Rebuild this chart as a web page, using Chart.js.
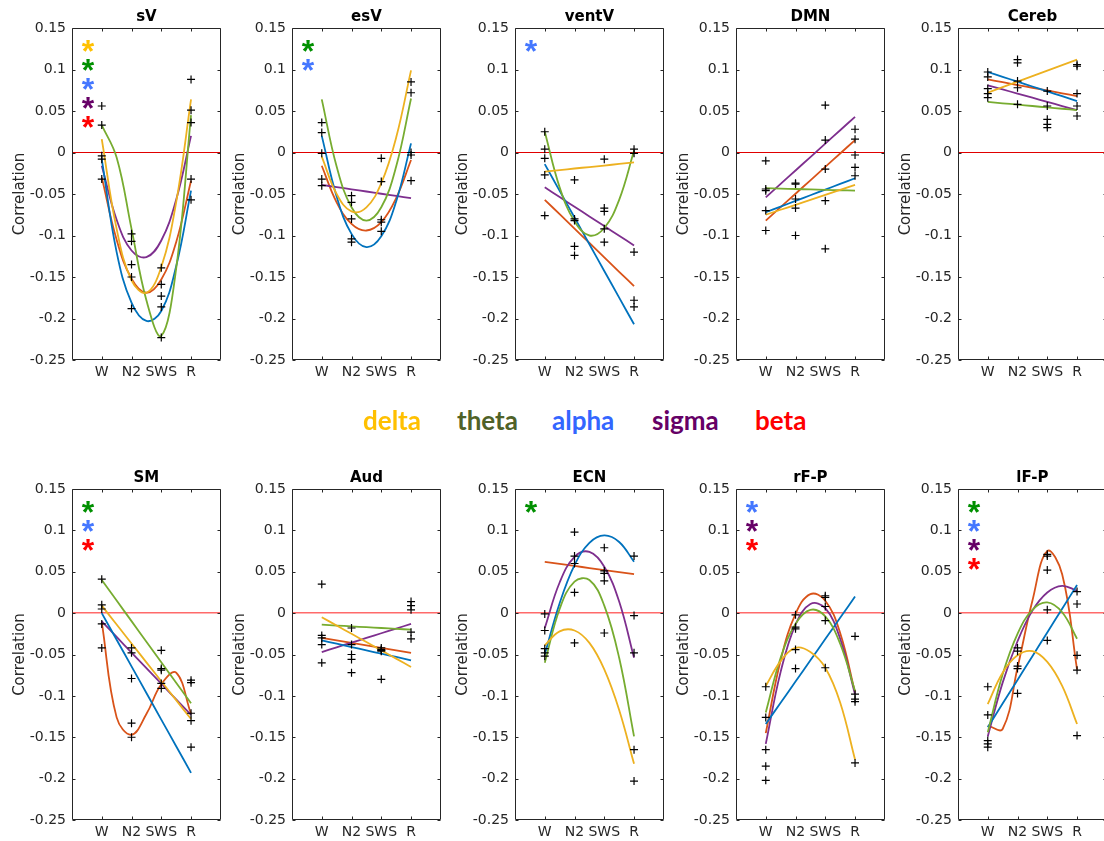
<!DOCTYPE html>
<html>
<head>
<meta charset="utf-8">
<script src="https://cdn.jsdelivr.net/npm/chart.js@4.4.1/dist/chart.umd.min.js"></script>
<style>
  html, body { margin: 0; padding: 0; background: #fff; width: 1104px; height: 841px; overflow: hidden; }
  #fig { position: relative; width: 1104px; height: 841px; overflow: hidden; }
  #fig canvas { position: absolute; }
  .band { position: absolute; top: 404px; font: bold 26px Lato, sans-serif; line-height: 32px; white-space: nowrap; }
</style>
</head>
<body>
<div id="fig"></div>
<script>
// Eixos comuns
const stages = ['W', 'N2', 'SWS', 'R'];
const stageX = [1, 2, 3, 4];
const fitX = [1, 1.5, 2, 2.5, 3, 3.5, 4];
const bands = ['delta', 'theta', 'alpha', 'sigma', 'beta'];
const yTicks = [-0.25, -0.2, -0.15, -0.1, -0.05, 0, 0.05, 0.1, 0.15];
const yTickLabels = ['-0.25', '-0.2', '-0.15', '-0.1', '-0.05', '0', '0.05', '0.1', '0.15'];

// Cores
const fitColors = ['#EDB120', '#77AC30', '#0072BD', '#7E2F8E', '#D95319'];
const legendColors = ['#FFC000', '#4F6228', '#3366FF', '#660066', '#FF0000'];
const starColors = ['#FFC000', '#009000', '#4477FF', '#660066', '#FF0000'];

// sV
const sV_pts = [
    [0.056, 0.033, -0.004, -0.008, -0.032],
    [-0.098, -0.107, -0.135, -0.150, -0.188],
    [-0.139, -0.159, -0.173, -0.186, -0.223],
    [0.088, 0.051, 0.036, -0.032, -0.057]
];
const sV_fit = [
    [0.016, -0.092, -0.154, -0.169, -0.138, -0.060, 0.064],
    [0.033, -0.006, -0.092, -0.178, -0.221, -0.140, 0.045],
    [-0.008, -0.120, -0.181, -0.203, -0.191, -0.137, -0.046],
    [-0.016, -0.081, -0.118, -0.126, -0.106, -0.057, 0.020],
    [-0.030, -0.105, -0.152, -0.169, -0.153, -0.108, -0.034]
];
const sV_stars = ['delta', 'theta', 'alpha', 'sigma', 'beta'];

// esV
const esV_pts = [
    [0.036, 0.024, -0.001, -0.032, -0.040],
    [-0.052, -0.060, -0.080, -0.104, -0.108],
    [-0.007, -0.035, -0.081, -0.084, -0.095],
    [0.085, 0.072, 0.000, -0.003, -0.034]
];
const esV_fit = [
    [-0.005, -0.050, -0.071, -0.066, -0.037, 0.018, 0.099],
    [0.064, -0.017, -0.066, -0.082, -0.066, -0.017, 0.065],
    [0.020, -0.053, -0.098, -0.114, -0.101, -0.059, 0.011],
    [-0.039, -0.0417, -0.0443, -0.047, -0.0497, -0.0523, -0.055],
    [-0.016, -0.060, -0.086, -0.094, -0.084, -0.055, -0.009]
];
const esV_stars = ['theta', 'alpha'];

// ventV
const ventV_pts = [
    [0.025, 0.004, -0.007, -0.027, -0.076],
    [-0.033, -0.080, -0.082, -0.113, -0.124],
    [-0.008, -0.067, -0.071, -0.092, -0.108],
    [0.004, -0.001, -0.120, -0.178, -0.186]
];
const ventV_fit = [
    [-0.023, -0.0212, -0.0193, -0.0175, -0.0157, -0.0138, -0.012],
    [0.025, -0.042, -0.083, -0.100, -0.091, -0.057, 0.002],
    [-0.014, -0.0462, -0.0783, -0.1105, -0.1427, -0.1748, -0.207],
    [-0.042, -0.0537, -0.0653, -0.077, -0.0887, -0.1003, -0.112],
    [-0.057, -0.0743, -0.0917, -0.109, -0.1263, -0.1437, -0.161]
];
const ventV_stars = ['alpha'];

// DMN
const DMN_pts = [
    [-0.010, -0.044, -0.046, -0.070, -0.094],
    [-0.037, -0.038, -0.056, -0.067, -0.100],
    [0.057, 0.015, -0.020, -0.058, -0.116],
    [0.028, 0.016, -0.003, -0.018, -0.028]
];
const DMN_fit = [
    [-0.075, -0.069, -0.063, -0.057, -0.051, -0.045, -0.039],
    [-0.043, -0.0435, -0.044, -0.0445, -0.045, -0.0455, -0.046],
    [-0.072, -0.0652, -0.0583, -0.0515, -0.0447, -0.0378, -0.031],
    [-0.054, -0.0378, -0.0217, -0.0055, 0.0107, 0.0268, 0.043],
    [-0.082, -0.0658, -0.0497, -0.0335, -0.0173, -0.0012, 0.015]
];
const DMN_stars = [];

// Cereb
const Cereb_pts = [
    [0.097, 0.091, 0.077, 0.071, 0.066],
    [0.112, 0.108, 0.086, 0.078, 0.058],
    [0.074, 0.056, 0.040, 0.034, 0.030],
    [0.106, 0.104, 0.071, 0.056, 0.044]
];
const Cereb_fit = [
    [0.072, 0.0787, 0.0853, 0.092, 0.0987, 0.1053, 0.112],
    [0.061, 0.0593, 0.0577, 0.056, 0.0543, 0.0527, 0.051],
    [0.097, 0.0912, 0.0853, 0.0795, 0.0737, 0.0678, 0.062],
    [0.081, 0.076, 0.071, 0.066, 0.061, 0.056, 0.051],
    [0.088, 0.0847, 0.0813, 0.078, 0.0747, 0.0713, 0.068]
];
const Cereb_stars = [];

// SM
const SM_pts = [
    [0.041, 0.010, 0.005, -0.013, -0.042],
    [-0.042, -0.048, -0.079, -0.133, -0.150],
    [-0.045, -0.067, -0.069, -0.085, -0.091],
    [-0.081, -0.084, -0.121, -0.130, -0.162]
];
const SM_fit = [
    [0.009, -0.0138, -0.0367, -0.0595, -0.0823, -0.1052, -0.128],
    [0.040, 0.0152, -0.0097, -0.0345, -0.0593, -0.0842, -0.109],
    [0.000, -0.0322, -0.0643, -0.0965, -0.1287, -0.1608, -0.193],
    [-0.010, -0.0288, -0.0477, -0.0665, -0.0853, -0.1042, -0.123],
    [-0.011, -0.126, -0.147, -0.122, -0.086, -0.072, -0.122]
];
const SM_stars = ['theta', 'alpha', 'beta'];

// Aud
const Aud_pts = [
    [0.035, -0.027, -0.030, -0.038, -0.060],
    [-0.018, -0.038, -0.050, -0.056, -0.072],
    [-0.042, -0.044, -0.045, -0.046, -0.080],
    [0.014, 0.009, 0.004, -0.023, -0.031]
];
const Aud_fit = [
    [-0.005, -0.015, -0.025, -0.035, -0.045, -0.055, -0.065],
    [-0.014, -0.015, -0.016, -0.017, -0.018, -0.019, -0.020],
    [-0.033, -0.037, -0.041, -0.045, -0.049, -0.053, -0.057],
    [-0.047, -0.0413, -0.0357, -0.030, -0.0243, -0.0187, -0.013],
    [-0.030, -0.033, -0.036, -0.039, -0.042, -0.045, -0.048]
];
const Aud_stars = [];

// ECN
const ECN_pts = [
    [-0.001, -0.021, -0.043, -0.048, -0.052],
    [0.098, 0.069, 0.060, 0.025, -0.036],
    [0.079, 0.051, 0.048, 0.039, -0.024],
    [0.069, -0.003, -0.048, -0.165, -0.203]
];
const ECN_fit = [
    [-0.039, -0.022, -0.021, -0.036, -0.068, -0.117, -0.182],
    [-0.060, 0.005, 0.038, 0.040, 0.009, -0.054, -0.149],
    [-0.050, 0.012, 0.058, 0.085, 0.094, 0.086, 0.062],
    [-0.018, 0.037, 0.068, 0.074, 0.056, 0.014, -0.054],
    [0.062, 0.0595, 0.057, 0.0545, 0.052, 0.0495, 0.047]
];
const ECN_stars = ['theta'];

// rF-P
const rFP_pts = [
    [-0.089, -0.126, -0.165, -0.185, -0.202],
    [-0.002, -0.017, -0.019, -0.044, -0.067],
    [0.021, 0.019, 0.008, -0.009, -0.066],
    [-0.028, -0.098, -0.104, -0.107, -0.181]
];
const rFP_fit = [
    [-0.088, -0.058, -0.042, -0.047, -0.066, -0.108, -0.177],
    [-0.120, -0.054, -0.013, 0.004, -0.004, -0.037, -0.094],
    [-0.134, -0.1083, -0.0827, -0.057, -0.0313, -0.0057, 0.020],
    [-0.158, -0.071, -0.014, 0.011, 0.006, -0.031, -0.098],
    [-0.145, -0.057, -0.001, 0.023, 0.015, -0.024, -0.096]
];
const rFP_stars = ['alpha', 'sigma', 'beta'];

// lF-P
const lFP_pts = [
    [-0.089, -0.123, -0.154, -0.158, -0.162],
    [-0.042, -0.046, -0.064, -0.067, -0.097],
    [0.071, 0.069, 0.052, 0.004, -0.033],
    [0.026, 0.011, -0.051, -0.069, -0.148]
];
const lFP_fit = [
    [-0.110, -0.072, -0.051, -0.046, -0.059, -0.088, -0.134],
    [-0.144, -0.074, -0.025, 0.004, 0.013, 0.001, -0.031],
    [-0.138, -0.1093, -0.0807, -0.052, -0.0233, 0.0053, 0.034],
    [-0.149, -0.084, -0.034, 0.003, 0.025, 0.033, 0.027],
    [-0.136, -0.140, -0.066, 0.015, 0.075, 0.047, -0.068]
];
const lFP_stars = ['theta', 'alpha', 'sigma', 'beta'];

const panels = [
    { title: 'sV', pts: sV_pts, fit: sV_fit, stars: sV_stars },
    { title: 'esV', pts: esV_pts, fit: esV_fit, stars: esV_stars },
    { title: 'ventV', pts: ventV_pts, fit: ventV_fit, stars: ventV_stars },
    { title: 'DMN', pts: DMN_pts, fit: DMN_fit, stars: DMN_stars },
    { title: 'Cereb', pts: Cereb_pts, fit: Cereb_fit, stars: Cereb_stars },
    { title: 'SM', pts: SM_pts, fit: SM_fit, stars: SM_stars },
    { title: 'Aud', pts: Aud_pts, fit: Aud_fit, stars: Aud_stars },
    { title: 'ECN', pts: ECN_pts, fit: ECN_fit, stars: ECN_stars },
    { title: 'rF-P', pts: rFP_pts, fit: rFP_fit, stars: rFP_stars },
    { title: 'lF-P', pts: lFP_pts, fit: lFP_fit, stars: lFP_stars }
];

// Layout
const panelLeft = [72, 292, 515, 736, 958];
const rowTop = [0, 461];
const legendLeft = [363, 457, 552, 652, 755];
const axisColor = '#262626';

Chart.defaults.font.family = '"DejaVu Sans"';

// Moldura, ticks internos e asteriscos
const framePlugin = {
    id: 'frame',
    afterDatasetsDraw(chart, args, opts) {
        const { ctx, chartArea: a, scales } = chart;
        const L = Math.round(a.left) + 0.5, T = Math.round(a.top) + 0.5;
        const R = Math.round(a.right) - 0.5, B = Math.round(a.bottom) - 0.5;
        ctx.save();
        ctx.strokeStyle = axisColor;
        ctx.lineWidth = 1;
        ctx.beginPath();
        ctx.rect(L, T, R - L, B - T);
        scales.x.ticks.forEach(t => {
            const px = Math.round(scales.x.getPixelForValue(t.value)) + 0.5;
            ctx.moveTo(px, T); ctx.lineTo(px, T + 3);
            ctx.moveTo(px, B); ctx.lineTo(px, B - 3);
        });
        scales.y.ticks.forEach(t => {
            const py = Math.round(scales.y.getPixelForValue(t.value)) + 0.5;
            ctx.moveTo(L, py); ctx.lineTo(L + 3, py);
            ctx.moveTo(R, py); ctx.lineTo(R - 3, py);
        });
        ctx.stroke();

        ctx.font = 'bold 32px "Liberation Sans"';
        ctx.textAlign = 'center';
        ctx.textBaseline = 'alphabetic';
        const m = ctx.measureText('*');
        const shift = (m.actualBoundingBoxAscent - m.actualBoundingBoxDescent) / 2;
        (opts.stars || []).forEach((band, k) => {
            ctx.fillStyle = starColors[bands.indexOf(band)];
            ctx.fillText('*', a.left + 16, a.top + 18 + 19 * k + shift);
        });
        ctx.restore();
    }
};

function desenharPainel(p, i) {
    const row = Math.floor(i / 5);
    const col = i % 5;
    const cv = document.createElement('canvas');
    cv.width = 226;
    cv.height = 390 - row;
    cv.style.left = (panelLeft[col] - 72) + 'px';
    cv.style.top = rowTop[row] + 'px';
    document.getElementById('fig').appendChild(cv);

    const marks = [];
    p.pts.forEach((vals, s) => vals.forEach(v => marks.push({ x: stageX[s], y: v })));

    const datasets = [{
        data: marks,
        pointStyle: 'cross',
        pointRadius: 4,
        pointBorderColor: '#000',
        pointBackgroundColor: '#000',
        pointBorderWidth: 1.2,
        borderColor: '#000'
    }];
    p.fit.forEach((f, b) => datasets.push({
        data: fitX.map((x, k) => ({ x: x, y: f[k] })),
        showLine: true,
        tension: 0.4,
        pointRadius: 0,
        borderColor: fitColors[b],
        borderWidth: 1.8
    }));

    const zeroColor = row === 0 ? '#E00000' : '#FF6A6A';

    new Chart(cv, {
        type: 'scatter',
        data: { datasets },
        options: {
            responsive: false,
            animation: false,
            events: [],
            layout: { padding: { right: 4 } },
            plugins: {
                legend: { display: false },
                tooltip: { enabled: false },
                title: {
                    display: true,
                    text: p.title,
                    fullSize: false,
                    color: '#000',
                    font: { size: 15, weight: 'bold' },
                    padding: { top: 8, bottom: 2 }
                },
                frame: { stars: p.stars }
            },
            scales: {
                x: {
                    type: 'linear',
                    min: 0,
                    max: 5,
                    afterBuildTicks: a => { a.ticks = stageX.map(v => ({ value: v })); },
                    afterFit: a => { a.height = 30; },
                    grid: { display: false, drawTicks: false },
                    border: { display: false },
                    ticks: {
                        callback: v => stages[stageX.indexOf(v)],
                        color: axisColor,
                        font: { size: 14 },
                        padding: 4,
                        maxRotation: 0,
                        autoSkip: false
                    }
                },
                y: {
                    min: -0.25,
                    max: 0.15,
                    afterBuildTicks: a => { a.ticks = yTicks.map(v => ({ value: v })); },
                    afterFit: a => { a.width = 72; },
                    border: { display: false },
                    grid: {
                        drawTicks: false,
                        color: c => (c.tick && Math.abs(c.tick.value) < 1e-9) ? zeroColor : 'rgba(0,0,0,0)',
                        lineWidth: row === 0 ? 1 : 1.5
                    },
                    ticks: {
                        callback: v => yTickLabels[yTicks.indexOf(v)],
                        color: axisColor,
                        font: { size: 14 },
                        padding: 6,
                        autoSkip: false
                    },
                    title: {
                        display: true,
                        text: 'Correlation',
                        color: axisColor,
                        font: { size: 15 },
                        padding: { top: 11, bottom: 0 }
                    }
                }
            }
        },
        plugins: [framePlugin]
    });
}

panels.forEach(desenharPainel);

// Legenda das bandas
bands.forEach((b, i) => {
    const s = document.createElement('span');
    s.className = 'band';
    s.textContent = b;
    s.style.left = legendLeft[i] + 'px';
    s.style.color = legendColors[i];
    document.getElementById('fig').appendChild(s);
});
</script>
</body>
</html>
